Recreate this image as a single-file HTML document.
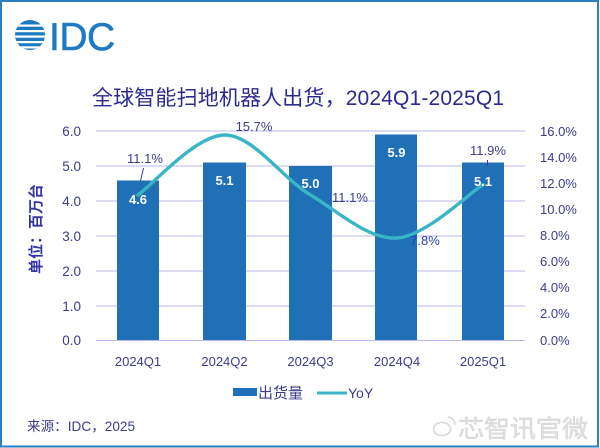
<!DOCTYPE html>
<html>
<head>
<meta charset="utf-8">
<style>
  html,body{margin:0;padding:0;background:#fff;}
  svg{display:block;}
  text{font-family:"Liberation Sans","Noto Sans CJK SC",sans-serif;}
</style>
</head>
<body>
<svg width="600" height="448" viewBox="0 0 600 448" xmlns="http://www.w3.org/2000/svg">
  <rect x="0" y="0" width="600" height="448" fill="#ffffff"/>
  <!-- frame -->
  <rect x="1" y="1" width="597" height="445.5" fill="none" stroke="#2b7fc0" stroke-width="2"/>

  <!-- IDC logo -->
  <defs>
    <clipPath id="globe"><circle cx="30" cy="35" r="15"/></clipPath>
  </defs>
  <g clip-path="url(#globe)">
    <rect x="14" y="19" width="32" height="32" fill="#1f7bc1"/>
    <rect x="14" y="24.5" width="32" height="2.2" fill="#fff"/>
    <rect x="14" y="30" width="32" height="2.2" fill="#fff"/>
    <rect x="14" y="35.5" width="32" height="2.2" fill="#fff"/>
    <rect x="14" y="41" width="32" height="2.2" fill="#fff"/>
    <rect x="14" y="46.3" width="32" height="2.2" fill="#fff"/>
  </g>
  <text x="49" y="50" font-size="39" fill="#1f7bc1" stroke="#1f7bc1" stroke-width="0.6" letter-spacing="-0.5">IDC</text>

  <!-- title -->
  <text x="92" y="105" font-size="21" fill="#2b2b8f" textLength="412" lengthAdjust="spacing">全球智能扫地机器人出货，2024Q1-2025Q1</text>

  <!-- y axis title -->
  <text transform="translate(41,229) rotate(-90)" text-anchor="middle" font-size="15" font-weight="bold" fill="#3535a5">单位：百万台</text>

  <!-- gridlines -->
  <g stroke="#b8b8ee" stroke-width="1">
    <line x1="96" y1="131" x2="525" y2="131"/>
    <line x1="96" y1="166" x2="525" y2="166"/>
    <line x1="96" y1="201" x2="525" y2="201"/>
    <line x1="96" y1="236" x2="525" y2="236"/>
    <line x1="96" y1="271" x2="525" y2="271"/>
    <line x1="96" y1="306" x2="525" y2="306"/>
    <line x1="96" y1="340.5" x2="525" y2="340.5"/>
  </g>

  <!-- left axis labels -->
  <g font-size="13.5" fill="#3c3c8c" text-anchor="end">
    <text x="81" y="136">6.0</text>
    <text x="81" y="171">5.0</text>
    <text x="81" y="206">4.0</text>
    <text x="81" y="241">3.0</text>
    <text x="81" y="276">2.0</text>
    <text x="81" y="311">1.0</text>
    <text x="81" y="345">0.0</text>
  </g>

  <!-- right axis labels -->
  <g font-size="13" fill="#3c3c8c">
    <text x="540" y="136">16.0%</text>
    <text x="540" y="162">14.0%</text>
    <text x="540" y="188">12.0%</text>
    <text x="540" y="214">10.0%</text>
    <text x="540" y="240">8.0%</text>
    <text x="540" y="266">6.0%</text>
    <text x="540" y="292">4.0%</text>
    <text x="540" y="318">2.0%</text>
    <text x="540" y="345">0.0%</text>
  </g>

  <!-- bars -->
  <g fill="#1f70b7">
    <rect x="117" y="180.5" width="42" height="159.5"/>
    <rect x="203" y="162.5" width="43" height="177.5"/>
    <rect x="289" y="166" width="43" height="174"/>
    <rect x="375" y="134.5" width="42" height="205.5"/>
    <rect x="462" y="162.5" width="42" height="177.5"/>
  </g>

  <!-- YoY line -->
  <path d="M138,195 C152.4,185 195.75,135 224.5,135 C253.25,135 281.75,177.8 310.5,195 C339.25,212.2 368.25,239.7 397,238 C425.75,236.3 468.7,193.5 483,184.6"
        fill="none" stroke="#3ab5c6" stroke-width="3.4" stroke-linecap="round"/>

  <!-- bar value labels -->
  <g font-size="13" font-weight="bold" fill="#ffffff" text-anchor="middle">
    <text x="138" y="204">4.6</text>
    <text x="224.5" y="185">5.1</text>
    <text x="310.5" y="188">5.0</text>
    <text x="396.5" y="157">5.9</text>
    <text x="483" y="186">5.1</text>
  </g>

  <!-- YoY labels -->
  <g font-size="13" fill="#3c3c8c" text-anchor="middle">
    <text x="145" y="163">11.1%</text>
    <text x="254" y="131">15.7%</text>
    <text x="350" y="202">11.1%</text>
    <text x="425" y="245" fill="#2a3db0">7.8%</text>
    <text x="488" y="155">11.9%</text>
  </g>
  <line x1="143.5" y1="168" x2="140.5" y2="181" stroke="#3a3aa8" stroke-width="1"/>
  <line x1="487.5" y1="160" x2="487.5" y2="166" stroke="#3a3aa8" stroke-width="1"/>

  <!-- category labels -->
  <g font-size="13" fill="#3c3c8c" text-anchor="middle">
    <text x="138" y="366">2024Q1</text>
    <text x="224.5" y="366">2024Q2</text>
    <text x="310.5" y="366">2024Q3</text>
    <text x="397" y="366">2024Q4</text>
    <text x="483" y="366">2025Q1</text>
  </g>

  <!-- legend -->
  <rect x="233" y="388" width="24" height="8" fill="#1f70b7"/>
  <text x="258" y="398" font-size="15" fill="#3c3c8c">出货量</text>
  <line x1="317" y1="393" x2="347" y2="393" stroke="#3ab5c6" stroke-width="3"/>
  <text x="348" y="398" font-size="14" fill="#3c3c8c">YoY</text>

  <!-- source -->
  <text x="27" y="431" font-size="13.6" fill="#3c3c8c">来源：IDC，2025</text>

  <!-- watermark -->
  <g opacity="0.55">
    <ellipse cx="442" cy="429" rx="8.5" ry="6.5" fill="none" stroke="#b8b8b8" stroke-width="1.5"/>
    <path d="M448,417 q7,1 7,8" fill="none" stroke="#b8b8b8" stroke-width="1.5"/>
    <text x="458" y="437" font-size="24" fill="#c8c8c8" stroke="#a8a8a8" stroke-width="0.4" textLength="130" lengthAdjust="spacingAndGlyphs">芯智讯官微</text>
  </g>
</svg>
</body>
</html>
